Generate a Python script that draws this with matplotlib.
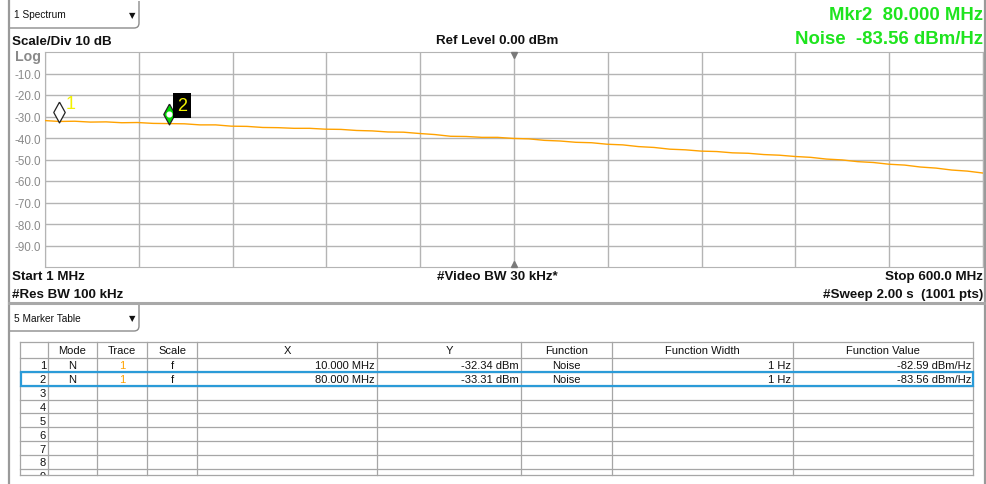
import numpy as np
import matplotlib.pyplot as plt
from matplotlib.patches import Rectangle, PathPatch
from matplotlib.path import Path
from matplotlib import transforms

plt.rcParams['font.family'] = ['Liberation Sans', 'DejaVu Sans']

# ---- data ----
f_start, f_stop = 1.0, 600.0
ref_level, scale_div = 0.0, 10.0
freq_mhz = [1] + list(range(10, 601, 10))
trace_dbm = [-31.9, -32.3, -32.2, -32.6, -32.5, -32.9, -32.8, -33.2, -33.3, -33.4,
             -33.9, -33.9, -34.5, -34.6, -35.1, -35.2, -35.5, -35.5, -35.9, -36.0,
             -36.5, -36.7, -37.2, -37.3, -37.9, -38.4, -39.2, -39.3, -39.7, -39.7,
             -40.2, -40.4, -41.1, -41.4, -42.0, -42.2, -42.9, -43.2, -44.0, -44.4,
             -45.2, -45.5, -46.1, -46.3, -46.9, -47.1, -47.7, -48.0, -48.6, -49.0,
             -49.8, -50.2, -51.0, -51.4, -52.2, -52.6, -53.5, -54.0, -54.9, -55.4,
             -56.3]
marker_freq = [10.0, 80.0]
marker_dbm = [-32.34, -33.31]
y_ticks = [-10, -20, -30, -40, -50, -60, -70, -80, -90]
y_labels = ['-10.0', '-20.0', '-30.0', '-40.0', '-50.0', '-60.0', '-70.0', '-80.0', '-90.0']

table_head = ['', 'Mode', 'Trace', 'Scale', 'X', 'Y', 'Function', 'Function Width', 'Function Value']
table_rows = [
    ['1', 'N', '1', 'f', '10.000 MHz', '-32.34 dBm', 'Noise', '1 Hz', '-82.59 dBm/Hz'],
    ['2', 'N', '1', 'f', '80.000 MHz', '-33.31 dBm', 'Noise', '1 Hz', '-83.56 dBm/Hz'],
]
n_rows = 9

W, H = 987, 485
GREEN = '#1ee41e'
YELLOW = '#f2f200'
ORANGE = '#ffa200'
GRID = '#b4b4b4'
LINE = '#9a9a9a'

fig = plt.figure(figsize=(W / 100, H / 100), dpi=100)
bg = fig.add_axes([0, 0, 1, 1])
bg.set_xlim(0, W)
bg.set_ylim(H, 0)
bg.axis('off')

# plot area in pixels
L, R, T, B = 45, 983, 53, 268
ax = fig.add_axes([L / W, 1 - B / H, (R - L) / W, (B - T) / H])
ax.set_xlim(f_start, f_stop)
ax.set_ylim(ref_level - 10 * scale_div, ref_level)
ax.set_xticks(np.linspace(f_start, f_stop, 11))
ax.set_yticks(y_ticks)
ax.set_yticklabels(y_labels)
ax.tick_params(length=0, labelbottom=False, labelsize=8.4, labelcolor='#8a8a8a', pad=3)
ax.grid(True, color=GRID, lw=1.0)
for s in ax.spines.values():
    s.set_color(GRID)
ax.set_facecolor('white')

ax.plot(freq_mhz, trace_dbm, color=ORANGE, lw=1.0, zorder=3)

# centre triangles
fc = (f_start + f_stop) / 2
tdown = transforms.offset_copy(ax.transData, fig=fig, y=-3, units='dots')
tup = transforms.offset_copy(ax.transData, fig=fig, y=3, units='dots')
ax.plot([fc], [ref_level], marker='v', ms=5, color='#7a7a7a', transform=tdown, clip_on=False, zorder=4)
ax.plot([fc], [ref_level - 10 * scale_div], marker='^', ms=5, color='#7a7a7a', transform=tup, clip_on=False, zorder=4)

# markers: diamond with bottom tip on trace
diamond = [(0, 1), (0.55, 0), (0, -1), (-0.55, 0), (0, 1)]
lift = transforms.offset_copy(ax.transData, fig=fig, y=10, units='dots')
ax.plot([marker_freq[0]], [marker_dbm[0]], marker=diamond, ms=15, mfc='white', mec='#222222',
        mew=0.9, ls='none', transform=lift, zorder=5, clip_on=False)
ax.plot([marker_freq[1]], [marker_dbm[1]], marker=diamond, ms=15, mfc='#00dd00', mec='#222222',
        mew=0.9, ls='none', transform=lift, zorder=5, clip_on=False)
ax.plot([marker_freq[1]], [marker_dbm[1]], marker='o', ms=3.4, mfc='white', mec='white',
        ls='none', transform=lift, zorder=6, clip_on=False)
lab1 = transforms.offset_copy(ax.transData, fig=fig, x=7, y=18, units='dots')
ax.text(marker_freq[0], marker_dbm[0], '1', transform=lab1, color=YELLOW, fontsize=13,
        ha='left', va='center', zorder=6)
lab2 = transforms.offset_copy(ax.transData, fig=fig, x=13, y=18, units='dots')
ax.text(marker_freq[1], marker_dbm[1], '2', transform=lab2, color=YELLOW, fontsize=13,
        ha='center', va='center', zorder=6,
        bbox=dict(boxstyle='square,pad=0.22', fc='black', ec='none'))

# ---- panel frame ----
bg.plot([9, 9], [0, H], color=LINE, lw=1.6)
bg.plot([984.5, 984.5], [0, H], color=LINE, lw=1.6)
bg.plot([9, 985], [304, 304], color='#a8a8a8', lw=2.2)


def dropdown(y0, y1, label):
    verts = [(139, y0), (139, y1 - 5), (139, y1), (134, y1), (9, y1)]
    codes = [Path.MOVETO, Path.LINETO, Path.CURVE3, Path.CURVE3, Path.LINETO]
    bg.add_patch(PathPatch(Path(verts, codes), fc='none', ec='#8c8c8c', lw=1.0))
    bg.text(14, (y0 + y1) / 2, label, fontsize=7.3, va='center', ha='left', color='#111111')
    bg.text(132, (y0 + y1) / 2, '\u25bc', fontsize=6, va='center', ha='center',
            color='#111111', family=['DejaVu Sans'])


dropdown(2, 29, '1 Spectrum')
dropdown(306, 332, '5 Marker Table')

bold = dict(fontsize=9.6, fontweight='bold', color='#111111', va='center')
bg.text(12, 42, 'Scale/Div 10 dB', ha='left', **bold)
bg.text(497, 41, 'Ref Level 0.00 dBm', ha='center', **bold)
bg.text(15, 57, 'Log', ha='left', fontsize=10.2, fontweight='bold', color='#8a8a8a', va='center')
bg.text(983, 16, 'Mkr2  80.000 MHz', ha='right', fontsize=13.4, fontweight='bold', color=GREEN, va='center')
bg.text(983, 39, 'Noise  -83.56 dBm/Hz', ha='right', fontsize=13.4, fontweight='bold', color=GREEN, va='center')
bg.text(12, 277, 'Start 1 MHz', ha='left', **bold)
bg.text(12, 295, '#Res BW 100 kHz', ha='left', **bold)
bg.text(497, 277, '#Video BW 30 kHz*', ha='center', **bold)
bg.text(983, 277, 'Stop 600.0 MHz', ha='right', **bold)
bg.text(983, 295, '#Sweep 2.00 s  (1001 pts)', ha='right', **bold)

# ---- marker table ----
col_x = [20, 48, 97, 147, 197, 377, 521, 612, 793, 973]
align = ['right', 'center', 'center', 'center', 'right', 'right', 'center', 'right', 'right']
t_top, h_bot, row_h, t_bot = 343, 359, 13.85, 476
tcol = '#a6a6a6'
for x in col_x:
    bg.plot([x, x], [t_top, t_bot], color=tcol, lw=0.9)
bg.plot([col_x[0], col_x[-1]], [t_top, t_top], color=tcol, lw=0.9)
bg.plot([col_x[0], col_x[-1]], [h_bot, h_bot], color=tcol, lw=0.9)
for i in range(n_rows):
    yb = h_bot + row_h * (i + 1)
    if yb < t_bot:
        bg.plot([col_x[0], col_x[-1]], [yb, yb], color=tcol, lw=0.9)
bg.plot([col_x[0], col_x[-1]], [t_bot, t_bot], color=tcol, lw=0.9)

fs = 8
for j, name in enumerate(table_head):
    bg.text((col_x[j] + col_x[j + 1]) / 2, (t_top + h_bot) / 2 + 0.5, name, fontsize=fs,
            ha='center', va='center', color='#111111')


def cell_x(j):
    if align[j] == 'right':
        return col_x[j + 1] - 2
    return (col_x[j] + col_x[j + 1]) / 2


clip_rect = Rectangle((0, t_top), W, t_bot - t_top, transform=bg.transData)
for i in range(n_rows):
    yc = h_bot + row_h * (i + 0.5) + 0.5
    row = table_rows[i] if i < len(table_rows) else [str(i + 1)] + [''] * 8
    for j, val in enumerate(row):
        if not val:
            continue
        txt = bg.text(cell_x(j), yc, val, fontsize=fs, ha=align[j], va='center',
                      color=ORANGE if j == 2 else '#111111', clip_on=True)
        txt.set_clip_path(clip_rect)

# selected row highlight
sel = 1
bg.add_patch(Rectangle((col_x[0] + 1, h_bot + row_h * sel), col_x[-1] - col_x[0] - 1, row_h,
                       fill=False, ec='#2b9bd8', lw=1.6, zorder=5))

fig.savefig('out.png', dpi=100)
